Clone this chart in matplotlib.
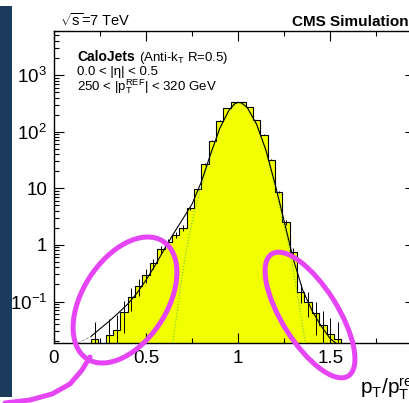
import numpy as np
import matplotlib
import matplotlib.pyplot as plt
from matplotlib.patches import Ellipse, Rectangle
from matplotlib.ticker import FuncFormatter, LogLocator, MultipleLocator

plt.rcParams["font.family"] = ["Liberation Sans", "DejaVu Sans"]
plt.rcParams["mathtext.fontset"] = "custom"
plt.rcParams["mathtext.rm"] = "Liberation Sans"
plt.rcParams["mathtext.it"] = "Liberation Sans:italic"
plt.rcParams["mathtext.bf"] = "Liberation Sans:bold"

# histogram of pT/pT_ref, bins of 0.04 from 0.20 to 1.56
bin_edges = np.round(np.arange(0.20, 1.5601, 0.04), 2)
bin_vals = [0.0215, 0, 0.026, 0.032, 0.065, 0.12, 0.19, 0.29, 0.47, 0.83,
            1.12, 1.5, 2.0, 4.4, 9.6, 27, 69, 156, 263, 335,
            335, 274, 162, 88, 32, 8.7, 2.5, 0.75, 0.15, 0.10,
            0.062, 0.039, 0.027, 0.0215]
evt_weight = 0.0215

# fitted response function (solid) and its extension (dashed)
fit_x = [0.20, 0.25, 0.30, 0.35, 0.40, 0.45, 0.50, 0.55, 0.60, 0.65,
         0.70, 0.75, 0.80, 0.85, 0.90, 0.95, 0.98, 1.00, 1.02, 1.05,
         1.10, 1.15, 1.20, 1.25, 1.30, 1.35, 1.40, 1.45, 1.50, 1.53]
fit_y = [0.024, 0.033, 0.045, 0.063, 0.09, 0.14, 0.24, 0.44, 0.85, 1.6,
         2.9, 5.3, 13, 40, 115, 240, 310, 330, 320, 265,
         135, 48, 12, 2.6, 0.55, 0.16, 0.07, 0.037, 0.022, 0.0185]
ext_x = [0.13, 0.20]
ext_y = [0.0185, 0.024]

# gaussian core (dotted)
core_x = [0.645, 0.67, 0.70, 0.73, 0.76, 0.80, 0.85, 0.90, 0.95, 1.00,
          1.05, 1.10, 1.15, 1.20, 1.25, 1.28, 1.31, 1.34, 1.365]
core_y = [0.0185, 0.07, 0.35, 1.3, 3.5, 11, 38, 110, 235, 330,
          265, 130, 45, 11, 2.2, 0.8, 0.22, 0.06, 0.0185]

W, H = 410, 403
fig = plt.figure(figsize=(W / 100, H / 100), dpi=100)
fig.patch.set_facecolor("white")

ax = fig.add_axes([54 / W, (H - 343) / H, 361 / W, 312 / H])
ax.set_yscale("log")
ax.set_xlim(0, 1.96)
ax.set_ylim(0.0185, 6000)

vals = np.array(bin_vals, dtype=float)
centers = 0.5 * (bin_edges[:-1] + bin_edges[1:])
ax.stairs(vals, bin_edges, baseline=1e-5, fill=True, color="#f2ff00", zorder=1)
ax.stairs(vals, bin_edges, baseline=1e-5, color="black", lw=0.8, zorder=2)
errs = np.sqrt(vals * evt_weight)
m = vals > 0
ax.errorbar(centers[m], vals[m], yerr=errs[m], fmt="none", ecolor="black",
            elinewidth=0.7, capsize=0, zorder=3)

ax.plot(core_x, core_y, color="#70c050", ls=":", lw=0.8, zorder=4)
ax.plot(fit_x, fit_y, color="black", lw=0.8, zorder=5)
ax.plot(ext_x, ext_y, color="#888888", ls="--", lw=0.6, zorder=5)

# ROOT style axes
for s in ax.spines.values():
    s.set_linewidth(1.0)
ax.xaxis.set_major_locator(MultipleLocator(0.5))
ax.xaxis.set_minor_locator(MultipleLocator(0.25))
ax.yaxis.set_major_locator(LogLocator(base=10, numticks=10))
ax.yaxis.set_minor_locator(LogLocator(base=10, subs=np.arange(2, 10), numticks=20))
ax.tick_params(which="both", direction="in", top=True, right=True, width=0.8)
ax.tick_params(which="major", length=7.5, labelsize=13.5)
ax.tick_params(which="minor", length=3.8)
ax.tick_params(axis="x", pad=5)
ax.tick_params(axis="y", pad=5)


def ylab(v, pos):
    e = int(round(np.log10(v)))
    if e == 0:
        return "1"
    if e == 1:
        return "10"
    return r"$\mathregular{10^{%d}}$" % e


def xlab(v, pos):
    return "%g" % v


ax.yaxis.set_major_formatter(FuncFormatter(ylab))
ax.xaxis.set_major_formatter(FuncFormatter(xlab))

# texts
fig.text(60 / W, 1 - 26 / H, r"$\mathregular{\sqrt{s}}$=7 TeV", fontsize=10.5, va="baseline")
fig.text(292 / W, 1 - 26 / H, "CMS Simulation", fontsize=11, weight="bold", va="baseline")
fig.text(77 / W, 1 - 61 / H, "CaloJets", fontsize=10, weight="bold", va="baseline")
fig.text(139 / W, 1 - 61 / H, r"(Anti-k$\mathregular{_T}$ R=0.5)", fontsize=9.5, va="baseline")
fig.text(77 / W, 1 - 75 / H, "0.0 < |η| < 0.5", fontsize=9.5, va="baseline")
fig.text(77 / W, 1 - 91 / H, r"250 < |p$\mathregular{_T^{REF}}$| < 320 GeV", fontsize=9.5, va="baseline")
fig.text(360 / W, 1 - 394 / H, r"p$\mathregular{_T}$/p$\mathregular{_T^{ref}}$", fontsize=15, va="baseline")

# slide decorations: blue side bar and magenta circles
ov = fig.add_axes([0, 0, 1, 1])
ov.set_xlim(0, W)
ov.set_ylim(H, 0)
ov.axis("off")
ov.patch.set_alpha(0)
ov.add_patch(Rectangle((0, 6), 12, 391, color="#1b3a5c", lw=0))
mag = "#e545f5"
ov.add_patch(Ellipse((125, 300), 140, 84, angle=-57, fill=False, ec=mag, lw=3.6))
ov.add_patch(Ellipse((310, 315), 144, 56, angle=58, fill=False, ec=mag, lw=3.6))
ov.plot([90, 82, 70, 52, 30, 5], [357, 370, 384, 394, 400, 403], color=mag, lw=3.6,
        solid_capstyle="round")

fig.savefig("out.png", dpi=100)
